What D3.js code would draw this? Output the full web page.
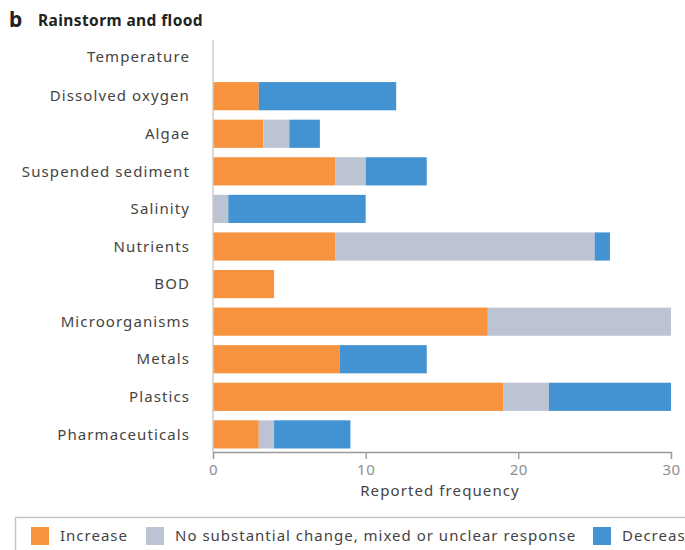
<!DOCTYPE html>
<html>
<head>
<meta charset="utf-8">
<script src="https://cdn.jsdelivr.net/npm/d3@7"></script>
<style>
  html, body { margin: 0; padding: 0; background: #fff; }
  svg { display: block; font-family: "Noto Sans", "DejaVu Sans", sans-serif; }
</style>
</head>
<body>
<svg id="chart" width="685" height="550"></svg>
<script>
// Water-quality variables reported after rainstorms and floods
const categories = [
  "Temperature", "Dissolved oxygen", "Algae", "Suspended sediment", "Salinity",
  "Nutrients", "BOD", "Microorganisms", "Metals", "Plastics", "Pharmaceuticals"
];
// Reported frequency per response type
const increase  = [0, 3, 3.3, 8, 0, 8, 4, 18, 8.3, 19, 3];
const noChange  = [0, 0, 1.7, 2, 1, 17, 0, 12, 0, 3, 1];
const decrease  = [0, 9, 2, 4, 9, 1, 0, 0, 5.7, 8, 5];
const xTicks = [0, 10, 20, 30];
const seriesNames = ["Increase", "No substantial change, mixed or unclear response", "Decrease"];
const seriesColors = ["#f7923f", "#bcc4d3", "#4392d1"];

const svg = d3.select("#chart");

const x = d3.scaleLinear().domain([0, 30]).range([213, 671]);
const y = d3.scaleBand().domain(categories).range([40, 453]).paddingInner(0.25).paddingOuter(0.12);

// Stack the three response series
const rows = categories.map((c, i) => ({ cat: c, inc: increase[i], nc: noChange[i], dec: decrease[i] }));
const layers = d3.stack().keys(["inc", "nc", "dec"])(rows);

svg.append("g").selectAll("g")
  .data(layers)
  .join("g")
  .attr("fill", (d, i) => seriesColors[i])
  .selectAll("rect")
  .data(d => d)
  .join("rect")
  .attr("x", d => x(d[0]))
  .attr("y", d => y(d.data.cat))
  .attr("width", d => Math.max(0, x(d[1]) - x(d[0])))
  .attr("height", y.bandwidth());

// Vertical baseline
svg.append("line")
  .attr("x1", x(0)).attr("x2", x(0))
  .attr("y1", 40).attr("y2", 452)
  .attr("stroke", "#cccccc").attr("stroke-width", 1.5);

// Category labels
svg.append("g").selectAll("text")
  .data(categories)
  .join("text")
  .attr("x", 190)
  .attr("y", (d, i) => y(d) + y.bandwidth() / 2 + (i === 0 ? -2 : 0))
  .attr("dy", "0.35em")
  .attr("text-anchor", "end")
  .attr("font-size", 15)
  .attr("letter-spacing", "1.1")
  .attr("fill", "#444")
  .text(d => d);

// X axis
const xAxis = d3.axisBottom(x).tickValues(xTicks).tickSize(7).tickPadding(5);
const gx = svg.append("g").attr("transform", "translate(0,452)").call(xAxis);
gx.select(".domain").attr("stroke", "#9a9a9a").attr("stroke-width", 1.3);
gx.selectAll(".tick line").attr("stroke", "#9a9a9a").attr("stroke-width", 1.3);
gx.selectAll(".tick text")
  .attr("font-size", 15).attr("fill", "#8e8e8e")
  .attr("letter-spacing", "0.5")
  .attr("font-family", "\"Noto Sans\", sans-serif");

svg.append("text")
  .attr("x", 440).attr("y", 496)
  .attr("text-anchor", "middle")
  .attr("font-size", 15).attr("fill", "#444")
  .attr("letter-spacing", "1.1")
  .text("Reported frequency");

// Panel title
svg.append("text")
  .attr("x", 9).attr("y", 27)
  .attr("font-size", 21).attr("font-weight", "bold").attr("fill", "#222")
  .text("b");
svg.append("text")
  .attr("x", 38).attr("y", 26)
  .attr("font-size", 15.5).attr("font-weight", "bold").attr("fill", "#222")
  .attr("letter-spacing", "0.4")
  .text("Rainstorm and flood");

// Legend (runs past the right edge of the panel)
svg.append("rect")
  .attr("x", 15.5).attr("y", 517.5)
  .attr("width", 690).attr("height", 40)
  .attr("fill", "none").attr("stroke", "#c6c6c6").attr("stroke-width", 1.5);

const legendX = [31, 146, 593];
const lg = svg.append("g").selectAll("g")
  .data(seriesNames)
  .join("g")
  .attr("transform", (d, i) => `translate(${legendX[i]},527)`);
lg.append("rect").attr("width", 18).attr("height", 18).attr("fill", (d, i) => seriesColors[i]);
lg.append("text")
  .attr("x", 29).attr("y", 9).attr("dy", "0.35em")
  .attr("font-size", 15).attr("fill", "#444")
  .attr("letter-spacing", "1.0")
  .text(d => d);
</script>
</body>
</html>
